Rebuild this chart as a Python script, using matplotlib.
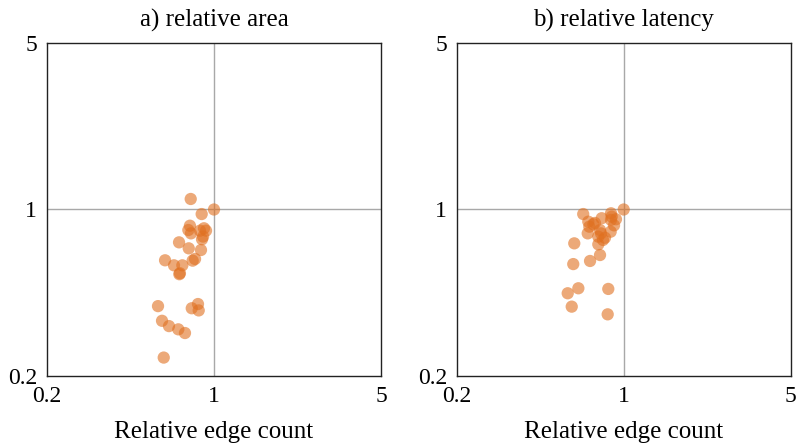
import matplotlib
matplotlib.use("Agg")
import matplotlib.pyplot as plt
from matplotlib.ticker import FixedLocator, NullLocator

plt.rcParams['font.family'] = ['Liberation Serif', 'DejaVu Serif']

titles = ["a) relative area", "b) relative latency"]
xlabel = "Relative edge count"
ticks = [0.2, 1, 5]
tick_labels = ["0.2", "1", "5"]

area_edges = [0.799, 1.0, 0.888, 0.793, 0.781, 0.908, 0.874, 0.926, 0.801, 0.891,
              0.714, 0.784, 0.882, 0.833, 0.814, 0.624, 0.680, 0.737, 0.716, 0.72,
              0.583, 0.807, 0.857, 0.863, 0.606, 0.648, 0.709, 0.756, 0.616, 0.90]
area_vals = [1.107, 1.0, 0.957, 0.855, 0.820, 0.834, 0.815, 0.815, 0.794, 0.750,
             0.728, 0.687, 0.676, 0.620, 0.610, 0.612, 0.583, 0.583, 0.535, 0.54,
             0.393, 0.385, 0.401, 0.377, 0.341, 0.324, 0.314, 0.303, 0.239, 0.77]

lat_edges = [1.0, 0.677, 0.885, 0.891, 0.928, 0.809, 0.711, 0.746, 0.911, 0.718,
             0.796, 0.803, 0.882, 0.707, 0.783, 0.835, 0.783, 0.621, 0.796, 0.723,
             0.615, 0.646, 0.862, 0.583, 0.606, 0.857, 0.758, 0.819, 0.885]
lat_vals = [1.0, 0.957, 0.964, 0.933, 0.910, 0.919, 0.889, 0.867, 0.858, 0.847,
            0.820, 0.794, 0.807, 0.794, 0.769, 0.761, 0.714, 0.721, 0.644, 0.608,
            0.590, 0.467, 0.464, 0.445, 0.391, 0.363, 0.878, 0.745, 0.904]

fig = plt.figure(figsize=(7.96, 4.47), dpi=100)
W, H = 796, 447
lefts = [47, 456.7]
series = [(area_edges, area_vals), (lat_edges, lat_vals)]
for i in range(2):
    ax = fig.add_axes([lefts[i] / W, (H - 376) / H, 334 / W, 333 / H])
    ax.set_xscale('log')
    ax.set_yscale('log')
    ax.set_xlim(0.2, 5)
    ax.set_ylim(0.2, 5)
    ax.axvline(1, color='#a8a8a8', lw=1.0, zorder=1)
    ax.axhline(1, color='#a8a8a8', lw=1.0, zorder=1)
    xs, ys = series[i]
    ax.scatter(xs, ys, s=78, color='#e07020', alpha=0.6, edgecolors='none', zorder=3)
    ax.xaxis.set_major_locator(FixedLocator(ticks))
    ax.yaxis.set_major_locator(FixedLocator(ticks))
    ax.xaxis.set_minor_locator(NullLocator())
    ax.yaxis.set_minor_locator(NullLocator())
    ax.set_xticklabels(tick_labels)
    ax.set_yticklabels(tick_labels)
    ax.tick_params(length=0, labelsize=17, pad=7)
    for sp in ax.spines.values():
        sp.set_linewidth(1.0)
        sp.set_color('#222222')
    ax.set_title(titles[i], fontsize=18, pad=12)
    ax.set_xlabel(xlabel, fontsize=18, labelpad=10)

fig.savefig("out.png", dpi=100)
